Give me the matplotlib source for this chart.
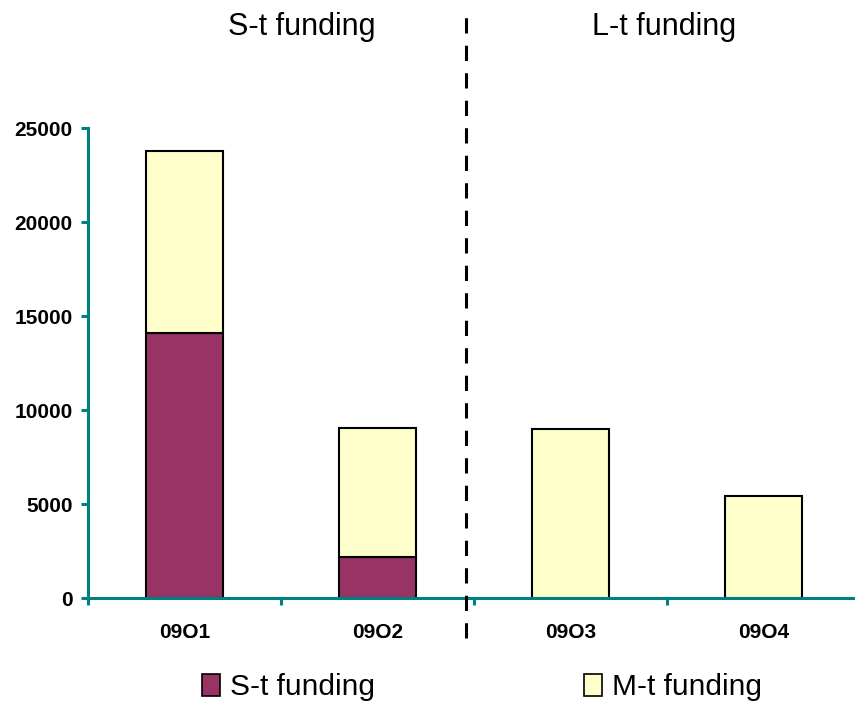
import matplotlib
matplotlib.use("Agg")
import matplotlib.pyplot as plt
import numpy as np
from matplotlib import font_manager
from matplotlib.patches import Patch
from matplotlib.transforms import Bbox, TransformedBbox

# data
quarters = ['09Q1', '09Q2', '09Q3', '09Q4']
st_funding = [14100, 2200, 0, 0]
mt_funding = [9700, 6850, 9000, 5400]
yticks = [0, 5000, 10000, 15000, 20000, 25000]

teal = '#008080'
plum = '#993366'
cream = '#FFFFCC'

def has_font(name):
    try:
        font_manager.findfont(name, fallback_to_default=False)
        return True
    except Exception:
        return False

plt.rcParams['font.family'] = ['Liberation Sans', 'DejaVu Sans']
narrow = 'Liberation Sans Narrow' if has_font('Liberation Sans Narrow') else 'Liberation Sans'
leg_size = 26 if narrow == 'Liberation Sans Narrow' else 21.5

fig = plt.figure(figsize=(8.55, 7.06), dpi=100)
ax = fig.add_axes([88 / 855, 108 / 706, 772 / 855, 470 / 706])

x = np.arange(len(quarters))
ax.bar(x, st_funding, 0.4, color=plum, edgecolor='black', linewidth=1.5,
       label='S-t funding', zorder=3)
ax.bar(x, mt_funding, 0.4, bottom=st_funding, color=cream, edgecolor='black',
       linewidth=1.5, label='M-t funding', zorder=3)

ax.set_xlim(-0.5, len(quarters) - 0.5)
ax.set_ylim(0, 25000)

for s in ['top', 'right']:
    ax.spines[s].set_visible(False)
for s in ['left', 'bottom']:
    ax.spines[s].set_color(teal)
    ax.spines[s].set_linewidth(2.2)
    ax.spines[s].set_zorder(4)

ax.set_yticks(yticks)
ax.set_yticklabels([str(v) for v in yticks], fontsize=15, fontweight='bold')
ax.tick_params(axis='y', colors=teal, labelcolor='black', length=5, width=2.2, pad=6)

# boundaries as major ticks, labels on minor ticks at the centres
ax.set_xticks(np.arange(len(quarters) + 1) - 0.5)
ax.set_xticklabels([])
ax.set_xticks(x, minor=True)
ax.set_xticklabels(quarters, minor=True, fontsize=15, fontweight='bold')
ax.tick_params(axis='x', which='major', colors=teal, length=5, width=2.2)
ax.tick_params(axis='x', which='minor', length=0, pad=18)

# labels are cut off at the bottom like in the original
clip = TransformedBbox(Bbox([[0, 68 / 706], [1, 1]]), fig.transFigure)
for lbl in ax.get_xticklabels(minor=True):
    lbl.set_clip_box(clip)
    lbl.set_clip_on(True)

# dashed divider between short and long term
div = plt.Line2D([466 / 855, 466 / 855], [68 / 706, 694 / 706], transform=fig.transFigure,
                 color='black', linewidth=2.2, linestyle=(0, (5, 4)))
fig.add_artist(div)

fig.text(302 / 855, 671 / 706, 'S-t funding', fontsize=22, ha='center', va='baseline')
fig.text(664 / 855, 671 / 706, 'L-t funding', fontsize=22, ha='center', va='baseline')

handles = [Patch(facecolor=plum, edgecolor='black', linewidth=1.2),
           Patch(facecolor=cream, edgecolor='black', linewidth=1.2)]
fig.legend(handles, ['S-t funding', 'M-t funding'], ncol=2, loc='center',
           bbox_to_anchor=(482 / 855, 19 / 706), frameon=False,
           prop={'family': narrow, 'size': leg_size},
           handlelength=0.6, handleheight=0.75, handletextpad=0.35,
           columnspacing=7.0, borderpad=0, borderaxespad=0)

fig.savefig('out.png', dpi=100)
